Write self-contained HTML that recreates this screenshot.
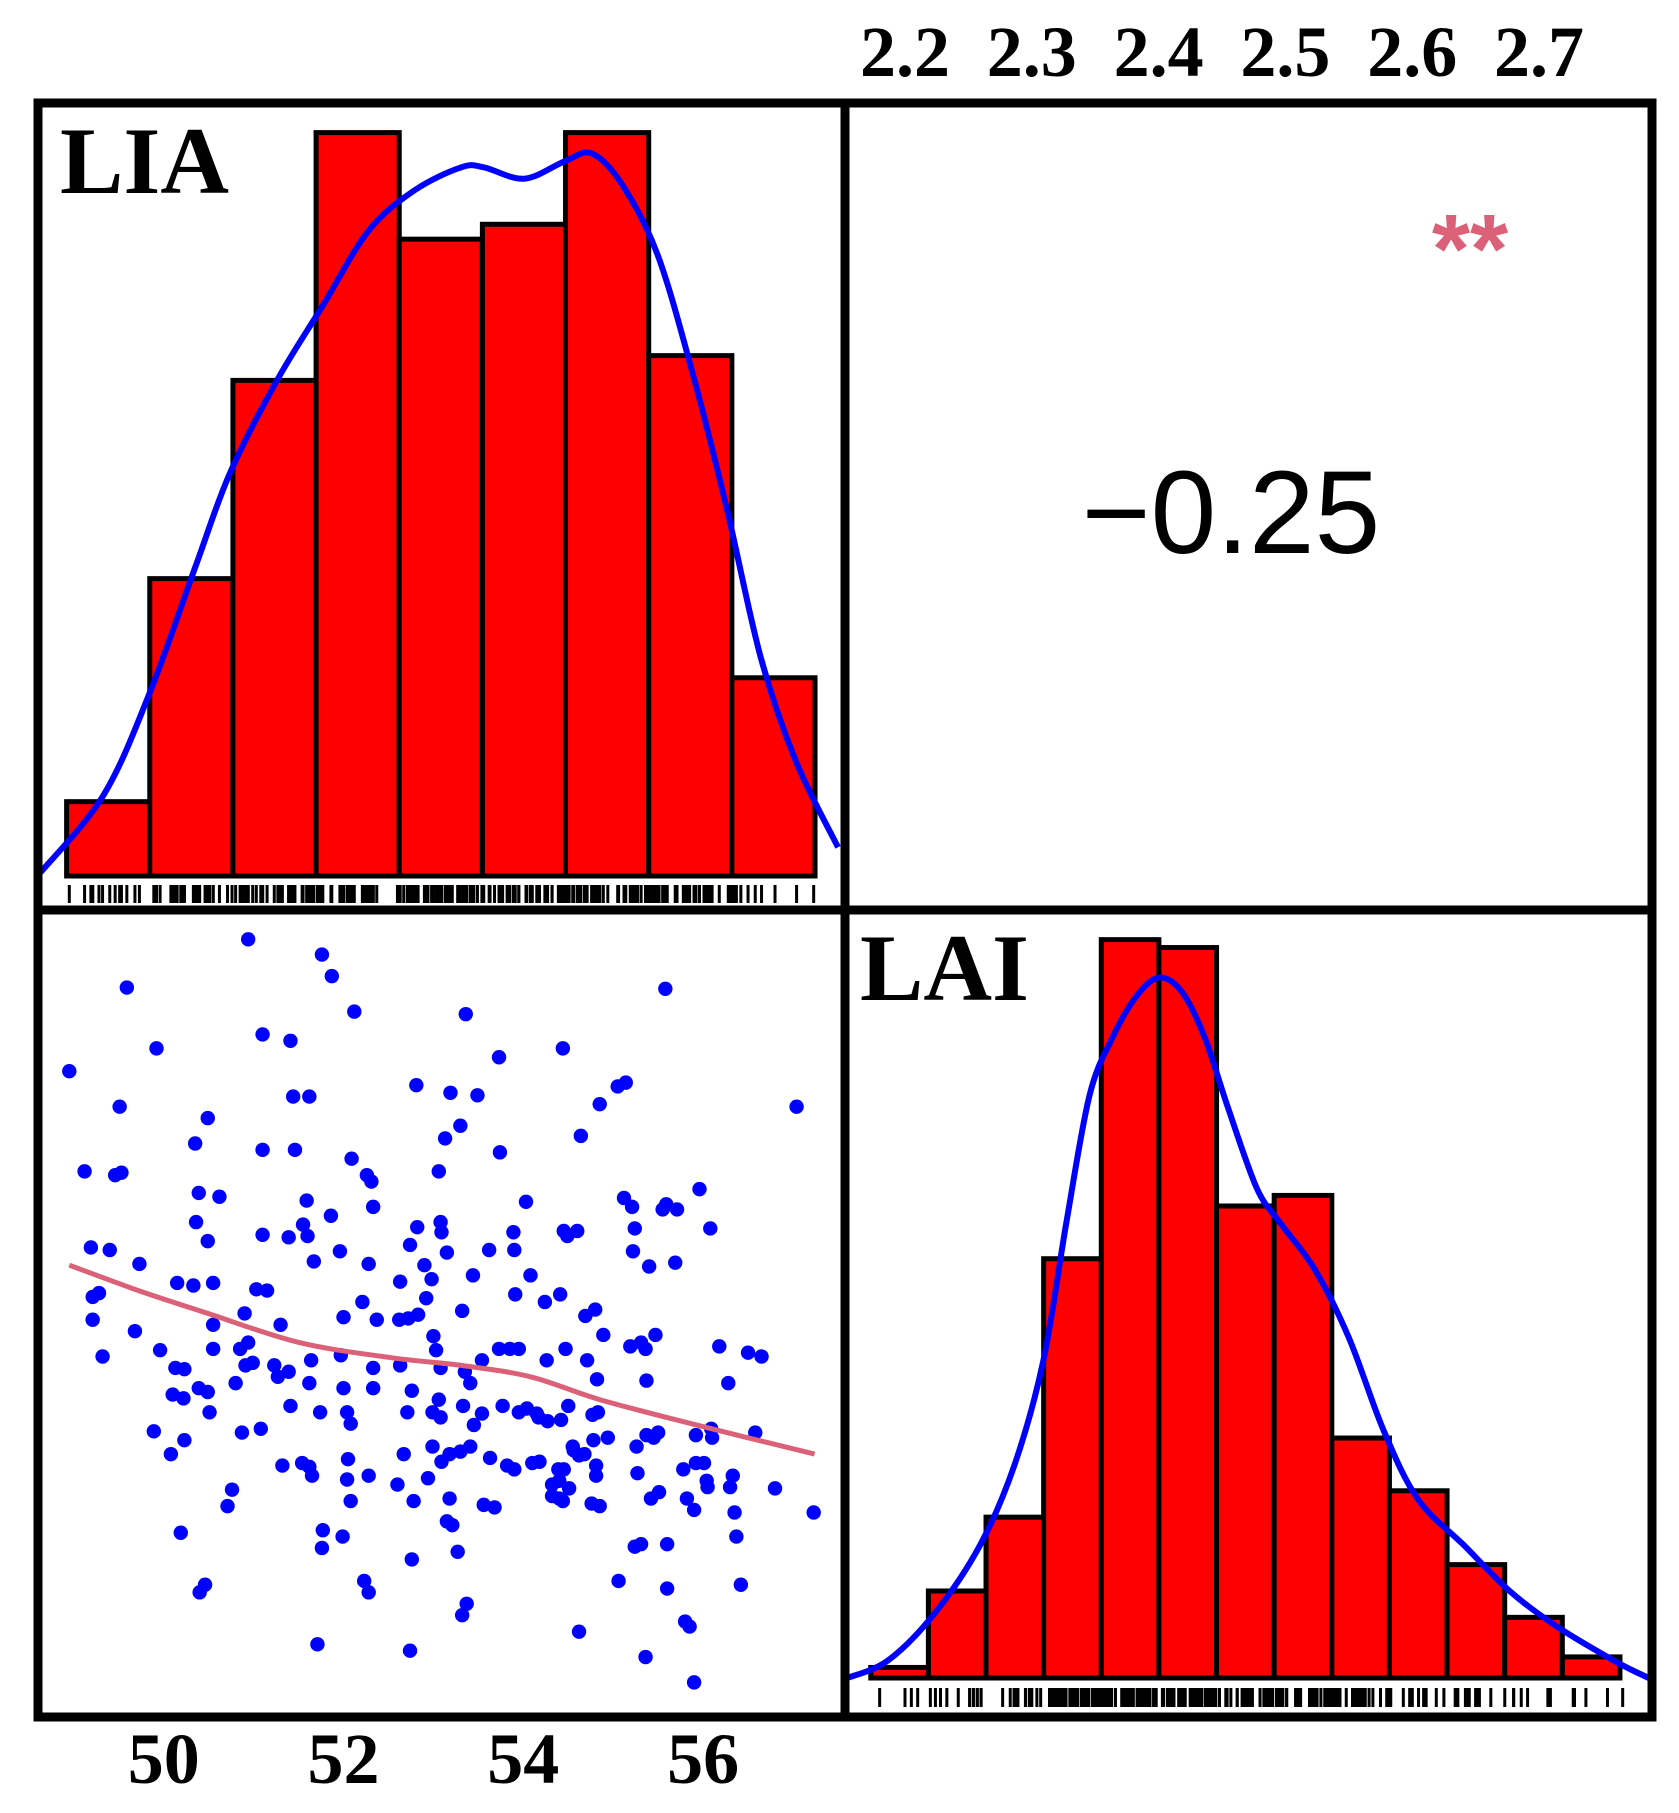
<!DOCTYPE html>
<html><head><meta charset="utf-8"><style>
html,body{margin:0;padding:0;background:#fff;}
svg{display:block;}
</style></head><body>
<svg id="chart" width="1679" height="1813" viewBox="0 0 1679 1813" xmlns="http://www.w3.org/2000/svg"></svg>
<script>
// ---- data ----
const liaBinStart = 48.92;
const liaBinWidth = 0.925;
const liaCounts = [3, 12, 20, 30, 25.7, 26.3, 30, 21, 8];
const liaDensX = [48.63,49.33,49.85,50.36,50.74,51.26,51.77,52.28,52.79,53.31,53.56,54.01,54.46,54.76,55.10,55.49,55.87,56.26,56.64,57.03,57.50];
const liaDensY = [0.14,3.26,7.44,12.56,16.28,20.0,23.02,26.05,27.67,28.6,28.6,28.14,28.84,29.16,27.9,25.1,20.47,14.88,8.84,4.65,1.16];

const laiBinStart = 2.173;
const laiBinWidth = 0.04545;
const laiCounts = [0.4,3.3,6.1,15.9,28,27.7,17.9,18.3,9.1,7.1,4.3,2.3,0.8];
const laiDensX = [2.1545,2.1864,2.2227,2.2591,2.2864,2.3091,2.3273,2.3455,2.3636,2.3818,2.4,2.4182,2.4364,2.4545,2.4773,2.4955,2.5227,2.55,2.5773,2.6045,2.6409,2.6773,2.7136,2.7591,2.7864];
const laiDensY = [0,0.66,2.41,5.03,8.09,12.03,17.28,22.09,24.28,25.81,26.56,26.03,24.28,21.66,18.59,17.28,15.53,12.91,9.41,6.78,5.03,3.28,1.97,0.66,0];

const liaValues = [50.94,51.76,51.87,49.59,52.12,55.58,53.36,51.10,51.41,49.92,54.44,48.95,53.73,52.81,53.19,53.49,55.14,55.05,51.44,51.62,49.51,54.85,57.04,50.49,53.30,53.13,50.35,54.64,51.10,51.46,52.09,53.74,49.12,49.53,49.46,52.26,52.31,53.06,50.39,50.62,55.96,55.12,55.21,51.59,52.33,54.03,55.59,55.71,55.55,50.36,51.55,51.86,53.08,52.82,53.09,53.89,54.45,54.49,54.60,55.24,56.08,50.49,51.10,51.39,51.60,51.96,49.19,49.40,52.74,53.15,53.62,53.90,55.22,51.67,52.28,52.90,53.44,54.08,55.40,55.69,49.73,50.15,50.33,50.55,51.03,51.15,52.98,52.63,52.92,53.91,54.24,54.41,52.21,49.21,49.28,53.32,54.80,54.69,52.62,52.72,52.83,49.21,50.90,51.30,52.00,52.37,53.00,49.68,50.55,50.94,53.85,53.95,54.47,55.19,55.31,55.47,54.89,55.36,56.18,56.50,56.65,49.32,49.96,50.55,50.85,50.99,51.23,51.64,51.97,53.03,53.54,53.73,54.71,50.13,50.23,51.27,50.91,51.39,52.33,52.63,53.08,53.35,54.26,50.10,50.39,50.49,50.80,51.62,52.00,52.33,52.76,53.41,54.82,55.37,56.28,50.22,50.51,51.41,51.74,52.04,52.71,52.99,53.06,53.33,53.54,53.77,53.95,54.04,54.15,54.50,54.77,54.83,53.08,49.89,50.23,50.87,51.08,52.08,53.45,54.17,54.27,54.42,55.37,55.45,55.50,55.92,56.10,56.09,56.58,50.08,52.99,53.18,53.41,53.63,53.82,54.10,54.18,54.55,54.62,54.68,54.78,54.94,55.26,51.32,51.54,51.62,52.05,52.67,53.09,53.30,53.90,54.39,54.45,54.81,54.56,55.27,55.78,55.92,56.01,56.33,52.04,52.28,51.65,52.60,52.94,54.32,54.40,54.51,54.81,55.51,56.04,56.05,56.30,56.80,50.76,52.08,52.78,53.18,54.32,54.40,54.76,55.42,55.82,55.90,56.35,57.23,50.71,53.56,53.68,53.15,53.21,54.44,54.85,50.19,51.77,51.99,51.76,56.37,55.24,55.31,55.60,53.27,52.76,50.46,50.40,52.23,52.28,55.06,55.60,56.42,53.37,53.32,55.80,55.85,54.62,51.71,52.74,55.36,55.90];
const laiValues = [2.766,2.754,2.737,2.728,2.709,2.727,2.707,2.691,2.686,2.680,2.680,2.662,2.673,2.651,2.645,2.643,2.653,2.650,2.642,2.642,2.634,2.636,2.634,2.625,2.619,2.609,2.605,2.611,2.600,2.600,2.593,2.598,2.583,2.582,2.580,2.580,2.575,2.583,2.566,2.563,2.569,2.562,2.555,2.560,2.555,2.559,2.557,2.553,2.553,2.543,2.541,2.548,2.543,2.539,2.535,2.535,2.536,2.532,2.536,2.538,2.538,2.528,2.533,2.531,2.532,2.520,2.523,2.521,2.525,2.519,2.521,2.521,2.520,2.512,2.510,2.509,2.501,2.501,2.508,2.511,2.510,2.495,2.493,2.495,2.490,2.489,2.498,2.496,2.483,2.486,2.480,2.486,2.480,2.484,2.487,2.473,2.474,2.469,2.466,2.467,2.470,2.466,2.471,2.462,2.468,2.466,2.453,2.457,2.462,2.448,2.443,2.443,2.443,2.445,2.448,2.454,2.454,2.443,2.445,2.440,2.437,2.437,2.442,2.443,2.443,2.432,2.430,2.434,2.438,2.442,2.434,2.443,2.434,2.428,2.427,2.421,2.430,2.425,2.428,2.430,2.428,2.425,2.434,2.407,2.412,2.409,2.416,2.416,2.412,2.412,2.410,2.416,2.419,2.418,2.416,2.404,2.393,2.398,2.393,2.393,2.393,2.393,2.403,2.398,2.392,2.398,2.393,2.396,2.392,2.398,2.391,2.393,2.389,2.378,2.371,2.377,2.380,2.384,2.383,2.389,2.386,2.387,2.375,2.373,2.377,2.375,2.373,2.380,2.377,2.360,2.366,2.360,2.366,2.357,2.351,2.353,2.354,2.366,2.359,2.360,2.371,2.373,2.366,2.351,2.353,2.350,2.356,2.360,2.354,2.362,2.348,2.348,2.348,2.351,2.363,2.345,2.348,2.353,2.353,2.343,2.340,2.343,2.343,2.336,2.341,2.336,2.339,2.333,2.343,2.330,2.339,2.334,2.334,2.333,2.332,2.323,2.323,2.325,2.327,2.325,2.321,2.325,2.325,2.316,2.314,2.314,2.319,2.320,2.318,2.307,2.304,2.323,2.319,2.298,2.300,2.295,2.286,2.295,2.287,2.289,2.289,2.283,2.277,2.257,2.251,2.260,2.251,2.260,2.254,2.257,2.242,2.233,2.228,2.224,2.220,2.210,2.205,2.200,2.180];

const loessX = [48.95,49.72,50.49,51.51,52.54,53.31,54.08,54.85,55.87,57.24];
const loessY = [2.509,2.489,2.471,2.448,2.436,2.430,2.421,2.403,2.384,2.360];

const liaTicks = [50, 52, 54, 56];
const laiTicks = [2.2, 2.3, 2.4, 2.5, 2.6, 2.7];
const corrText = "\u22120.25";
const sigText = "**";

// ---- scales ----
const xLIA = v => 163.7 + (v - 50) * 89.9;
const xLAI = v => 905 + (v - 2.2) * 1268;
const yLAIscatter = v => 1717 - (v - 2.1527) * 1268;
const yHistTop = c => 876 - c * 24.78;
const yHistBot = c => 1678 - c * 26.37;

const NS = "http://www.w3.org/2000/svg";
const svg = document.getElementById('chart');
function mk(tag, attrs, parent) {
  const e = document.createElementNS(NS, tag);
  for (const k in attrs) e.setAttribute(k, attrs[k]);
  (parent || svg).appendChild(e);
  return e;
}
// Catmull-Rom smooth path through points
function smoothPath(pts) {
  let s = 'M' + pts[0][0].toFixed(1) + ' ' + pts[0][1].toFixed(1);
  for (let i = 0; i < pts.length - 1; i++) {
    const p0 = pts[Math.max(0, i - 1)], p1 = pts[i], p2 = pts[i + 1], p3 = pts[Math.min(pts.length - 1, i + 2)];
    const c1x = p1[0] + (p2[0] - p0[0]) / 6, c1y = p1[1] + (p2[1] - p0[1]) / 6;
    const c2x = p2[0] - (p3[0] - p1[0]) / 6, c2y = p2[1] - (p3[1] - p1[1]) / 6;
    s += ' C' + c1x.toFixed(1) + ' ' + c1y.toFixed(1) + ' ' + c2x.toFixed(1) + ' ' + c2y.toFixed(1) + ' ' + p2[0].toFixed(1) + ' ' + p2[1].toFixed(1);
  }
  return s;
}

// clip paths
const defs = mk('defs', {});
const c1 = mk('clipPath', {id: 'clipTL'}, defs); mk('rect', {x: 42, y: 107, width: 799, height: 799}, c1);
const c2 = mk('clipPath', {id: 'clipBR'}, defs); mk('rect', {x: 849, y: 914, width: 799, height: 799}, c2);
const c3 = mk('clipPath', {id: 'clipBL'}, defs); mk('rect', {x: 42, y: 914, width: 799, height: 799}, c3);

// ---- top-left LIA histogram ----
const gTL = mk('g', {'clip-path': 'url(#clipTL)'});


liaCounts.forEach((c, i) => {
  const x0 = xLIA(liaBinStart + i * liaBinWidth), x1 = xLIA(liaBinStart + (i + 1) * liaBinWidth);
  const r = mk('rect', {x: x0, y: yHistTop(c), width: x1 - x0, height: yHistTop(0) - yHistTop(c), fill: '#ff0000', stroke: '#000', 'stroke-width': 5}, gTL);
  
  
});
const dl1 = mk('path', {d: smoothPath(liaDensX.map((x, i) => [xLIA(x), yHistTop(liaDensY[i])])), fill: 'none', stroke: '#0000ff', 'stroke-width': 6, 'stroke-linejoin': 'round'}, gTL);


const rug1 = mk('g', {}, gTL);


liaValues.forEach(v => { mk('line', {x1: xLIA(v), x2: xLIA(v), y1: 885, y2: 903, stroke: '#000', 'stroke-width': 3}, rug1); });

// ---- bottom-right LAI histogram ----
const gBR = mk('g', {'clip-path': 'url(#clipBR)'});


laiCounts.forEach((c, i) => {
  const x0 = xLAI(laiBinStart + i * laiBinWidth), x1 = xLAI(laiBinStart + (i + 1) * laiBinWidth);
  const r = mk('rect', {x: x0, y: yHistBot(c), width: x1 - x0, height: yHistBot(0) - yHistBot(c), fill: '#ff0000', stroke: '#000', 'stroke-width': 5}, gBR);
  
  
});
const dl2 = mk('path', {d: smoothPath(laiDensX.map((x, i) => [xLAI(x), yHistBot(laiDensY[i])])), fill: 'none', stroke: '#0000ff', 'stroke-width': 6, 'stroke-linejoin': 'round'}, gBR);


const rug2 = mk('g', {}, gBR);


laiValues.forEach(v => { mk('line', {x1: xLAI(v), x2: xLAI(v), y1: 1688, y2: 1707, stroke: '#000', 'stroke-width': 3}, rug2); });

// ---- bottom-left scatter ----
const gBL = mk('g', {'clip-path': 'url(#clipBL)'});


liaValues.forEach((v, i) => {
  const p = mk('circle', {cx: xLIA(v), cy: yLAIscatter(laiValues[i]), r: 7.2, fill: '#0000ff'}, gBL);
  
  
});
const lo = mk('path', {d: smoothPath(loessX.map((x, i) => [xLIA(x), yLAIscatter(loessY[i])])), fill: 'none', stroke: '#db6178', 'stroke-width': 5, 'stroke-linejoin': 'round'}, gBL);



// ---- frames ----
const fr = mk('g', {fill: 'none', stroke: '#000', 'stroke-width': 9});


mk('rect', {x: 38, y: 103, width: 807, height: 807}, fr);
mk('rect', {x: 845, y: 103, width: 807, height: 807}, fr);
mk('rect', {x: 38, y: 910, width: 807, height: 807}, fr);
mk('rect', {x: 845, y: 910, width: 807, height: 807}, fr);

// ---- labels ----
const serif = '"Liberation Serif", serif';
const t1 = mk('text', {x: 60, y: 193, 'font-family': serif, 'font-weight': 'bold', 'font-size': 95, fill: '#000'});
t1.textContent = 'LIA';


const t2 = mk('text', {x: 860, y: 1000, 'font-family': serif, 'font-weight': 'bold', 'font-size': 95, fill: '#000'});
t2.textContent = 'LAI';


const t3 = mk('text', {x: 1231, y: 553, 'text-anchor': 'middle', 'font-family': '"Liberation Sans", sans-serif', 'font-size': 118, fill: '#000'});
t3.textContent = corrText;


const t4 = mk('text', {x: 1470, y: 283, 'text-anchor': 'middle', 'font-family': '"Liberation Sans", sans-serif', 'font-weight': 'bold', 'font-size': 98, fill: '#db6178'});
t4.textContent = sigText;



laiTicks.forEach(v => {
  const t = mk('text', {x: xLAI(v), y: 76, 'text-anchor': 'middle', 'font-family': serif, 'font-weight': 'bold', 'font-size': 72, fill: '#000'});
  t.textContent = v.toFixed(1);
  
  
});
liaTicks.forEach(v => {
  const t = mk('text', {x: xLIA(v), y: 1783, 'text-anchor': 'middle', 'font-family': serif, 'font-weight': 'bold', 'font-size': 72, fill: '#000'});
  t.textContent = String(v);
  
  
});
</script>
</body></html>
